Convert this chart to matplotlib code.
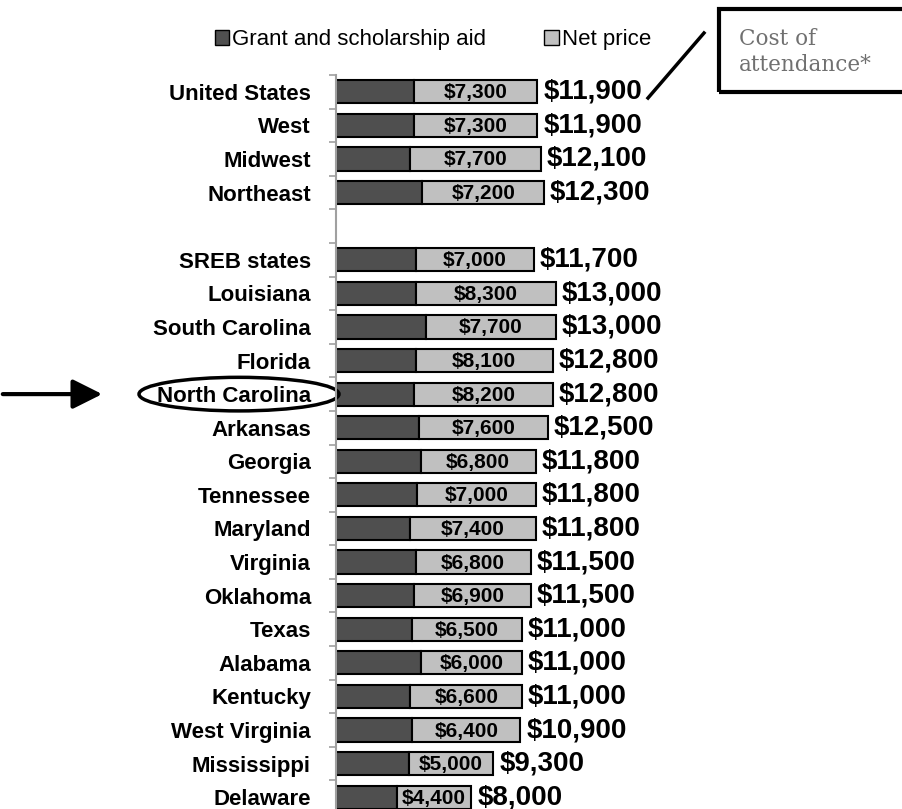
import numpy as np
import matplotlib
matplotlib.use("Agg")
import matplotlib.pyplot as plt
from matplotlib.patches import Ellipse, Rectangle
from matplotlib.lines import Line2D
from matplotlib.transforms import blended_transform_factory

# -------------------------------
# DATA (blank entry = spacer row)
# -------------------------------

regions = ["United States", "West", "Midwest", "Northeast", "",
           "SREB states", "Louisiana", "South Carolina", "Florida",
           "North Carolina", "Arkansas", "Georgia", "Tennessee", "Maryland",
           "Virginia", "Oklahoma", "Texas", "Alabama", "Kentucky",
           "West Virginia", "Mississippi", "Delaware"]

net_price = [7300, 7300, 7700, 7200, np.nan,
             7000, 8300, 7700, 8100, 8200, 7600, 6800, 7000, 7400,
             6800, 6900, 6500, 6000, 6600, 6400, 5000, 4400]

cost_total = [11900, 11900, 12100, 12300, np.nan,
              11700, 13000, 13000, 12800, 12800, 12500, 11800, 11800, 11800,
              11500, 11500, 11000, 11000, 11000, 10900, 9300, 8000]

highlight = "North Carolina"

# -------------------------------
# PLOT
# -------------------------------

net_price = np.array(net_price)
cost_total = np.array(cost_total)
grant_aid = cost_total - net_price
ypos = np.arange(len(regions))

W, H = 903, 809
fig = plt.figure(figsize=(W / 100, H / 100), dpi=100)
ax = fig.add_axes([336 / W, -5 / H, 1 - 336 / W, 739 / H])

dark = "#4f4f4f"
light = "#c0c0c0"
ax.barh(ypos, grant_aid, height=0.69, color=dark, edgecolor="black", linewidth=1.5,
        label="Grant and scholarship aid")
ax.barh(ypos, net_price, left=grant_aid, height=0.69, color=light, edgecolor="black",
        linewidth=1.5, label="Net price")

for y, g, n, t in zip(ypos, grant_aid, net_price, cost_total):
    if np.isnan(t):
        continue
    ax.text(g + n / 2, y + 0.03, f"${int(n):,}", ha="center", va="center",
            fontsize=15, fontweight="bold", family="Liberation Sans")
    ax.text(t + 350, y, f"${int(t):,}", ha="left", va="center",
            fontsize=20, fontweight="bold", family="Liberation Sans")

ax.set_xlim(0, 33500)
ax.set_ylim(len(regions) - 0.5, -0.5)
ax.set_yticks(ypos)
ax.set_yticklabels(regions, fontsize=16, fontweight="bold", family="Liberation Sans")
ax.set_yticks(np.arange(len(regions) + 1) - 0.5, minor=True)
ax.tick_params(axis="y", which="major", length=0, pad=18)
ax.tick_params(axis="y", which="minor", length=5, width=1.2, color="#a0a0a0",
               direction="out")
ax.set_xticks([])
for s in ["top", "right", "bottom"]:
    ax.spines[s].set_visible(False)
ax.spines["left"].set_color("#a0a0a0")
ax.spines["left"].set_linewidth(1.5)

leg = fig.legend(loc="center", bbox_to_anchor=(433 / W, 1 - 40 / H), ncol=2,
                 frameon=False, handlelength=0.65, handleheight=0.65,
                 handletextpad=0.15, columnspacing=2.6,
                 prop={"family": "Liberation Sans", "size": 16})
for h in leg.legend_handles:
    h.set_linewidth(1.0)

# circle + arrow pointing at highlighted state
hy = regions.index(highlight)
bt = blended_transform_factory(fig.transFigure, ax.transData)
ax.add_patch(Ellipse((239 / W, hy), 200 / W, 1.0, transform=bt, fill=False,
                     edgecolor="black", linewidth=2.5, clip_on=False))
ax.annotate("", xy=(105 / W, hy), xycoords=bt, xytext=(0, hy), textcoords=bt,
            arrowprops=dict(arrowstyle="-|>,head_length=1.0,head_width=0.5",
                            mutation_scale=18, lw=3, color="black"),
            annotation_clip=False)

# cost of attendance callout
fig.add_artist(Rectangle((719 / W, 1 - 92 / H), 0.3, 83 / H, transform=fig.transFigure,
                         fill=False, edgecolor="black", linewidth=3))
fig.text(739 / W, 1 - 52 / H, "Cost of\nattendance*", ha="left", va="center",
         fontsize=15.5, color="#707070", family="DejaVu Serif", linespacing=1.2)
fig.add_artist(Line2D([648 / W, 704 / W], [1 - 98 / H, 1 - 33 / H],
                      transform=fig.transFigure, color="black", linewidth=2.5))

fig.savefig("out.png", dpi=100)
